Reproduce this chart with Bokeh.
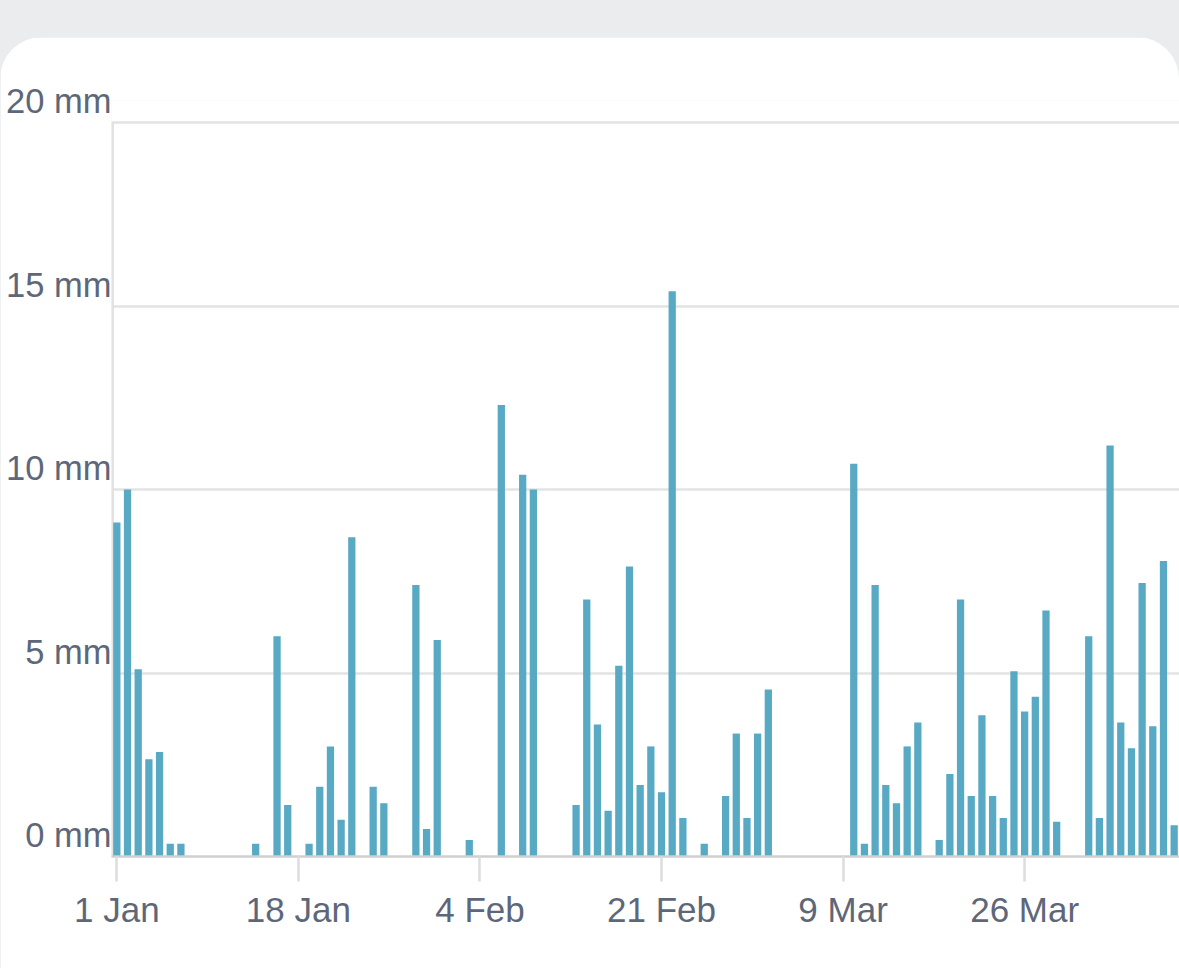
from bokeh.plotting import figure
from bokeh.models import FixedTicker, Spacer, LinearAxis, Range1d, Grid
from bokeh.layouts import column
from bokeh.embed import file_html
from bokeh.resources import INLINE

# ---- data -------------------------------------------------------------
# daily rainfall (mm), one value per day starting 1 Jan
day_index = list(range(100))
rain_mm = [
    9.1, 10.0, 5.1, 2.65, 2.85, 0.35, 0.35, 0, 0, 0,
    0, 0, 0, 0.35, 0, 6.0, 1.4, 0, 0.35, 1.9,
    3.0, 1.0, 8.7, 0, 1.9, 1.45, 0, 0, 7.4, 0.75,
    5.9, 0, 0, 0.45, 0, 0, 12.3, 0, 10.4, 10.0,
    0, 0, 0, 1.4, 7.0, 3.6, 1.25, 5.2, 7.9, 1.95,
    3.0, 1.75, 15.4, 1.05, 0, 0.35, 0, 1.65, 3.35, 1.05,
    3.35, 4.55, 0, 0, 0, 0, 0, 0, 0, 10.7,
    0.35, 7.4, 1.95, 1.45, 3.0, 3.65, 0, 0.45, 2.25, 7.0,
    1.65, 3.85, 1.65, 1.05, 5.05, 3.95, 4.35, 6.7, 0.95, 0,
    0, 6.0, 1.05, 11.2, 3.65, 2.95, 7.45, 3.55, 8.05, 0.85,
]
x_tick_days = [0, 17, 34, 51, 68, 85]
x_tick_labels = ["1 Jan", "18 Jan", "4 Feb", "21 Feb", "9 Mar", "26 Mar"]
y_ticks = [0, 5, 10, 15, 20]
y_tick_labels = ["0 mm", "5 mm", "10 mm", "15 mm", "20 mm"]
y_max = 20

# ---- style ------------------------------------------------------------
BAR = "#58a9c4"
TXT = "#5d6779"
FONT = "Liberation Sans"
FS = "35px"
HEAD = 0.6      # frame headroom above the top grid line (mm)
LIFT = 0.58     # labels sit above their grid line (mm)
X0 = -0.5

p = figure(
    width=1179, height=931,
    x_range=(X0, 99.5), y_range=(0, y_max + HEAD),
    output_backend="svg", toolbar_location=None,
    y_axis_location=None,
    min_border_left=111, min_border_right=0,
    min_border_top=63, min_border_bottom=112,
)
p.outline_line_color = None
p.background_fill_color = "white"
p.border_fill_color = "white"
p.xgrid.visible = False

p.add_layout(Grid(dimension=1, ticker=FixedTicker(ticks=[t for t in y_ticks if t > 0]),
                  grid_line_color="#e3e3e3", grid_line_width=2.5))

# left axis line (from 0 to the top grid line)
p.line(x=[X0, X0], y=[0, y_max], line_color="#e2e2e2", line_width=5)

p.vbar(x=day_index, top=rain_mm, width=0.68, color=BAR, line_color=None)

# x axis
p.xaxis.ticker = FixedTicker(ticks=x_tick_days)
p.xaxis.major_label_overrides = {d: l for d, l in zip(x_tick_days, x_tick_labels)}
p.xaxis.axis_line_color = "#cfcfcf"
p.xaxis.axis_line_width = 2.5
p.xaxis.major_tick_line_color = "#dddddd"
p.xaxis.major_tick_line_width = 2.5
p.xaxis.major_tick_in = 0
p.xaxis.major_tick_out = 25
p.xaxis.minor_tick_line_color = None
p.xaxis.major_label_standoff = 8
p.xaxis.major_label_text_font = FONT
p.xaxis.major_label_text_font_size = FS
p.xaxis.major_label_text_color = TXT

# y labels: an axis on a shifted range so that each label sits above its grid line
p.extra_y_ranges = {"lab": Range1d(-LIFT, y_max + HEAD - LIFT)}
yax = LinearAxis(y_range_name="lab", ticker=FixedTicker(ticks=y_ticks))
yax.major_label_overrides = {v: l for v, l in zip(y_ticks, y_tick_labels)}
yax.axis_line_color = None
yax.major_tick_line_color = None
yax.minor_tick_line_color = None
yax.major_tick_in = 0
yax.major_tick_out = 0
yax.major_label_standoff = 0
yax.major_label_text_font = FONT
yax.major_label_text_font_size = "34.5px"
yax.major_label_text_color = TXT
p.add_layout(yax, "left")

p.styles = {"border-radius": "42px 42px 0 0", "overflow": "hidden"}

layout = column(
    Spacer(width=1179, height=37),
    p,
    spacing=0,
    styles={"background-color": "#ebecee"},
)

open("out.html", "w").write(file_html(layout, INLINE))
